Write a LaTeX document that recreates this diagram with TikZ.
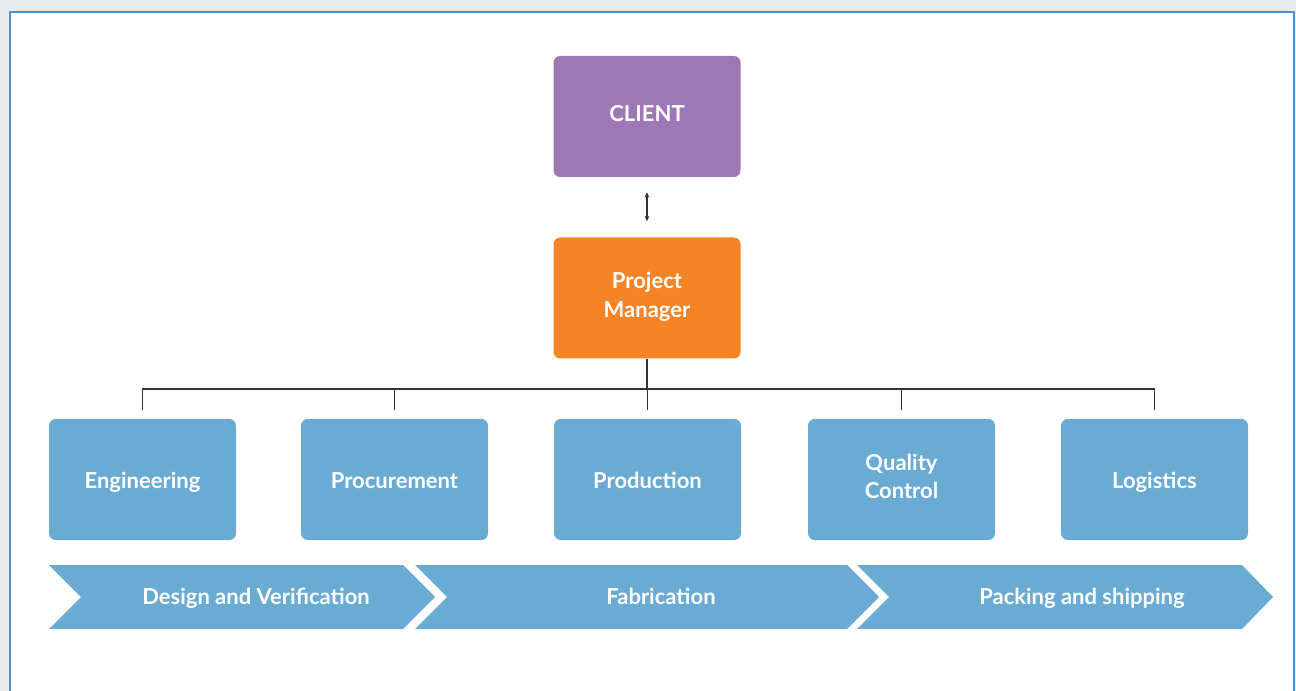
\documentclass[tikz,border=0pt]{standalone}
\usepackage{fontspec}
\setmainfont{Lato}
\usetikzlibrary{arrows.meta}

\definecolor{pagegray}{HTML}{E9EAEC}
\definecolor{frameblue}{HTML}{4A90CC}
\definecolor{clientpurple}{HTML}{9D78B4}
\definecolor{pmorange}{HTML}{F58426}
\definecolor{deptblue}{HTML}{6AABD4}
\definecolor{linegray}{HTML}{333333}

\newcommand{\unitstrut}{\rule[-5pt]{0pt}{23pt}}
\newcommand{\clientstrut}{\rule[-5.2pt]{0pt}{17.2pt}}
\newcommand{\topstrut}{\rule[-5pt]{0pt}{32.2pt}}
\newcommand{\lowstrut}{\rule[-3.5pt]{0pt}{3.5pt}}

\tikzset{
	box/.style={rectangle, rounded corners=5pt, fill=deptblue, text=white, minimum width=140.25pt, minimum height=90.75pt, align=center, font=\bfseries\fontsize{16.5}{21.5}\selectfont},
	unit/.style={box, execute at begin node=\unitstrut},
	twoline/.style={box, execute at begin node=\topstrut, execute at end node=\lowstrut},
	conn/.style={draw=linegray, line width=1.4pt},
	phase/.style={fill=deptblue},
	phaselabel/.style={text=white, font=\bfseries\fontsize{16.5}{20}\selectfont, execute at begin node=\unitstrut},
}

\begin{document}
\begin{tikzpicture}[x=0.75pt, y=-0.75pt]
	\fill[pagegray] (0, 0) rectangle (1296, 691);
	\useasboundingbox (0, 0) rectangle (1296, 691);
	\draw[fill=white, draw=frameblue, line width=1.2pt] (10, 12) rectangle (1294, 720);

	% top of the chart
	\node[box, fill=clientpurple, execute at begin node=\clientstrut] (client) at (647, 116.5) {CLIENT};
	\node[twoline, fill=pmorange] (pm) at (647, 298) {Project\\Manager};
	\draw[{Stealth[length=4pt, width=3.5pt]}-{Stealth[length=4pt, width=3.5pt]}, line width=1pt, linegray] ([yshift=-11.25pt]client.south) -- ([yshift=12pt]pm.north);

	% departments
	\node[unit] (eng) at (142.5, 479.5) {Engineering};
	\node[unit] (proc) at (394.5, 479.5) {Procurement};
	\node[unit] (prod) at (647.5, 479.5) {Production};
	\node[twoline] (qc) at (901.5, 479.5) {Quality\\Control};
	\node[unit] (logi) at (1154.5, 479.5) {Logistics};

	\coordinate (bus) at (647, 389);
	\draw[conn] (pm.south) -- (bus);
	\foreach \d in {eng, proc, prod, qc, logi}
		\draw[conn] (bus) -| ([yshift=6.75pt]\d.north);

	% phases
	\fill[phase] (49, 565) -- (403, 565) -- (435, 597) -- (403, 629) -- (49, 629) -- (81, 597) -- cycle;
	\fill[phase] (415, 565) -- (847, 565) -- (879, 597) -- (847, 629) -- (415, 629) -- (447, 597) -- cycle;
	\fill[phase] (857, 565) -- (1242, 565) -- (1273, 597) -- (1242, 629) -- (857, 629) -- (889, 597) -- cycle;
	\node[phaselabel] (design) at (256, 596) {Design and Verification};
	\node[phaselabel] (fab) at (661, 596) {Fabrication};
	\node[phaselabel] (pack) at (1082, 596) {Packing and shipping};
\end{tikzpicture}
\end{document}
